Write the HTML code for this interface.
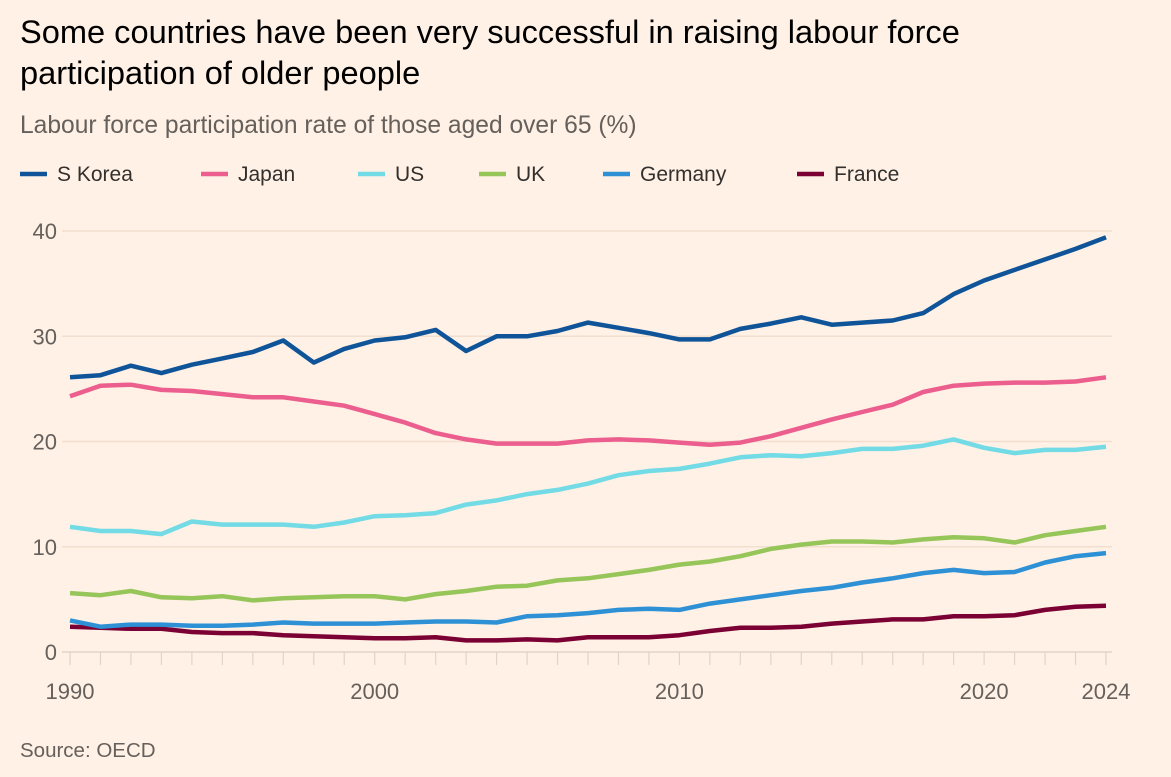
<!DOCTYPE html>
<html><head><meta charset="utf-8"><style>
body{margin:0;background:#fff1e5;font-family:"Liberation Sans",sans-serif;}
#wrap{position:relative;width:1171px;height:777px;overflow:hidden;background:#fff1e5;}
</style></head><body>
<div id="wrap">
<svg id="c" width="1171" height="777">
<text x="20" y="43" font-size="32.6" fill="#000">Some countries have been very successful in raising labour force</text>
<text x="20" y="84" font-size="32.6" fill="#000">participation of older people</text>
<text x="20" y="133" font-size="24.6" fill="#66605c">Labour force participation rate of those aged over 65 (%)</text>
<text x="20" y="757" font-size="20.5" fill="#66605c">Source: OECD</text>
<g id="legend"></g><g id="grid"></g><g id="lines"></g>
</svg>
</div>
<script>
const years=[];for(let y=1990;y<=2024;y++)years.push(y);
const seriesNames=["S Korea","Japan","US","UK","Germany","France"];
const skorea=[26.1,26.3,27.2,26.5,27.3,27.9,28.5,29.6,27.5,28.8,29.6,29.9,30.6,28.6,30.0,30.0,30.5,31.3,30.8,30.3,29.7,29.7,30.7,31.2,31.8,31.1,31.3,31.5,32.2,34.0,35.3,36.3,37.3,38.3,39.4];
const japan=[24.3,25.3,25.4,24.9,24.8,24.5,24.2,24.2,23.8,23.4,22.6,21.8,20.8,20.2,19.8,19.8,19.8,20.1,20.2,20.1,19.9,19.7,19.9,20.5,21.3,22.1,22.8,23.5,24.7,25.3,25.5,25.6,25.6,25.7,26.1];
const us=[11.9,11.5,11.5,11.2,12.4,12.1,12.1,12.1,11.9,12.3,12.9,13.0,13.2,14.0,14.4,15.0,15.4,16.0,16.8,17.2,17.4,17.9,18.5,18.7,18.6,18.9,19.3,19.3,19.6,20.2,19.4,18.9,19.2,19.2,19.5];
const uk=[5.6,5.4,5.8,5.2,5.1,5.3,4.9,5.1,5.2,5.3,5.3,5.0,5.5,5.8,6.2,6.3,6.8,7.0,7.4,7.8,8.3,8.6,9.1,9.8,10.2,10.5,10.5,10.4,10.7,10.9,10.8,10.4,11.1,11.5,11.9];
const germany=[3.0,2.4,2.6,2.6,2.5,2.5,2.6,2.8,2.7,2.7,2.7,2.8,2.9,2.9,2.8,3.4,3.5,3.7,4.0,4.1,4.0,4.6,5.0,5.4,5.8,6.1,6.6,7.0,7.5,7.8,7.5,7.6,8.5,9.1,9.4];
const france=[2.4,2.3,2.2,2.2,1.9,1.8,1.8,1.6,1.5,1.4,1.3,1.3,1.4,1.1,1.1,1.2,1.1,1.4,1.4,1.4,1.6,2.0,2.3,2.3,2.4,2.7,2.9,3.1,3.1,3.4,3.4,3.5,4.0,4.3,4.4];
const yTicks=[0,10,20,30,40];
const xLabels=[1990,2000,2010,2020,2024];
const colors=["#0f5499","#eb5e8d","#72dbe5","#96c55a","#2e91d6","#7b0033"];
const allSeries=[skorea,japan,us,uk,germany,france];
const NS="http://www.w3.org/2000/svg";
const x=v=>70+(v-1990)*(1106-70)/34;
const y=v=>652-v*(652-231)/40;
function mk(t,a,p){const e=document.createElementNS(NS,t);for(const k in a)e.setAttribute(k,a[k]);p.appendChild(e);return e;}
const grid=document.getElementById('grid');
yTicks.forEach(t=>{
 const l=mk('line',{x1:62,x2:1112,y1:y(t),y2:y(t),stroke:t===0?'#e0d4ca':'#f2dfcf','stroke-width':1.5},grid);
 
 
 const tx=mk('text',{x:57,y:y(t)+8,'text-anchor':'end','font-size':22,fill:'#66605c'},grid);
 tx.textContent=t;
 
 
});
years.forEach(yr=>{
 const l=mk('line',{x1:x(yr),x2:x(yr),y1:652,y2:665,stroke:'#e0d4ca','stroke-width':1.2},grid);
 
 
});
xLabels.forEach(v=>{
 const tx=mk('text',{x:x(v),y:699,'text-anchor':'middle','font-size':22,fill:'#66605c'},grid);
 tx.textContent=v;
 
 
});
const lines=document.getElementById('lines');
for(let i=allSeries.length-1;i>=0;i--){
 const d=allSeries[i].map((v,j)=>(j?'L':'M')+x(years[j]).toFixed(1)+','+y(v).toFixed(1)).join('');
 const p=mk('path',{d:d,fill:'none',stroke:colors[i],'stroke-width':4.5,'stroke-linejoin':'round'},lines);
 
 
}
const legend=document.getElementById('legend');
const lx=[20,201,358,479,603,797];
seriesNames.forEach((n,i)=>{
 const g=mk('g',{},legend);
 
 
 mk('line',{x1:lx[i],x2:lx[i]+27,y1:174,y2:174,stroke:colors[i],'stroke-width':4.5},g);
 const t=mk('text',{x:lx[i]+37,y:181,'font-size':21,fill:'#33302e'},g);
 t.textContent=n;
});
</script>
</body></html>
